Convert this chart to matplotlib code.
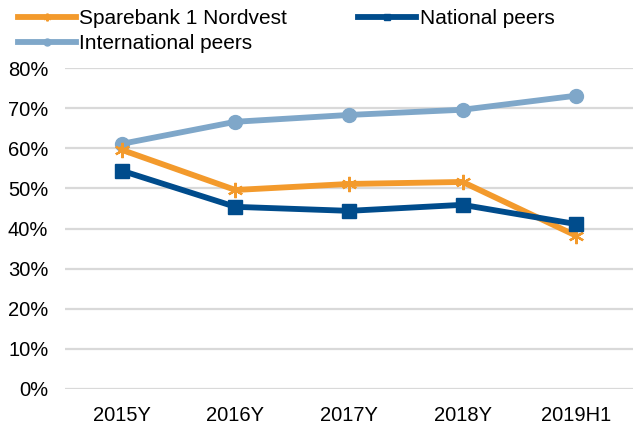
import matplotlib
matplotlib.use("Agg")
import matplotlib.pyplot as plt
from matplotlib.ticker import PercentFormatter

categories = ["2015Y", "2016Y", "2017Y", "2018Y", "2019H1"]
sparebank = [59.6, 49.6, 51.1, 51.6, 38.2]
national = [54.4, 45.4, 44.4, 45.9, 41.1]
international = [61.1, 66.6, 68.3, 69.6, 73.1]
yticks = [0, 10, 20, 30, 40, 50, 60, 70, 80]

plt.rcParams['font.family'] = ['Liberation Sans', 'DejaVu Sans']

fig = plt.figure(figsize=(6.33, 4.28), dpi=100)
ax = fig.add_axes([65/633, 1-389/428, 1-65/633, (389-68)/428])

x = list(range(len(categories)))
l1, = ax.plot(x, sparebank, color="#F39A2C", lw=4.2, marker=(6, 2, 0), ms=11, mew=1.6,
              label="Sparebank 1 Nordvest", zorder=3)
l2, = ax.plot(x, national, color="#004C8C", lw=4.2, marker="s", ms=10,
              label="National peers", zorder=3)
l3, = ax.plot(x, international, color="#7FA7C9", lw=4.2, marker="o", ms=10,
              label="International peers", zorder=2)

ax.set_xlim(-0.5, len(categories) - 0.5)
ax.set_ylim(0, 80)
ax.set_yticks(yticks)
ax.yaxis.set_major_formatter(PercentFormatter(decimals=0))
ax.set_xticks(x)
ax.set_xticklabels(categories)
ax.tick_params(axis='both', length=0, labelsize=14.5, colors="black")
ax.tick_params(axis='y', pad=12)
ax.tick_params(axis='x', pad=12)
ax.grid(axis='y', color="#D9D9D9", lw=1.6)
ax.set_axisbelow(True)
for s in ax.spines.values():
    s.set_visible(False)

fig.legend(handles=[l1, l3, l2], loc="upper left", bbox_to_anchor=(18/633, 1-9/428),
           ncol=2, frameon=False, fontsize=15, handlelength=2.8,
           handletextpad=0.15, columnspacing=3.4, labelspacing=0.3,
           markerscale=0.5, borderaxespad=0, borderpad=0)

fig.savefig("out.png", dpi=100)
